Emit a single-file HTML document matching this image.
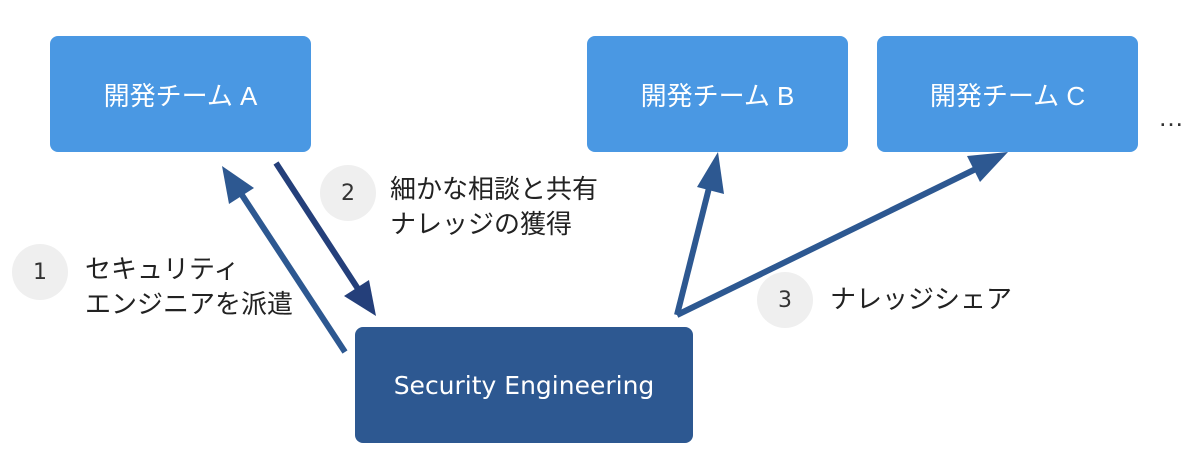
<!DOCTYPE html>
<html><head><meta charset="utf-8"><style>
body{margin:0;width:1200px;height:466px;background:#fff;position:relative;overflow:hidden;font-family:"Liberation Sans","Noto Sans CJK JP",sans-serif;}
.b{position:absolute;border-radius:8px;color:#fff;font-size:26px;display:flex;align-items:center;justify-content:center;}
.l{background:#4a98e3;top:36px;width:261px;height:116px;}
.c{position:absolute;width:56px;height:56px;border-radius:50%;background:#efefef;color:#333;font-size:22px;display:flex;align-items:center;justify-content:center;font-family:"DejaVu Sans",sans-serif;}
.t{position:absolute;font-size:26px;color:#222;line-height:35px;}
</style></head><body>
<div class="b l" style="left:50px">開発チーム A</div>
<div class="b l" style="left:587px">開発チーム B</div>
<div class="b l" style="left:877px">開発チーム C</div>
<div class="b" style="left:355px;top:327px;width:338px;height:116px;background:#2d5891;font-size:25px;font-family:'DejaVu Sans',sans-serif">Security Engineering</div>
<div class="t" style="left:1158px;top:100px;color:#333">…</div>
<svg width="1200" height="466" style="position:absolute;left:0;top:0">
<g stroke-width="6" fill="none">
<line x1="345" y1="352" x2="238" y2="189" stroke="#2d5891"/>
<line x1="276" y1="163" x2="362" y2="295" stroke="#243f7a"/>
<line x1="677" y1="315" x2="712" y2="176" stroke="#2d5891"/>
<line x1="677" y1="315" x2="986" y2="164" stroke="#2d5891"/>
</g>
<polygon points="222,166 254,188 229,204" fill="#2d5891"/>
<polygon points="376,316 344,296 369,280" fill="#243f7a"/>
<polygon points="718,152 724,194 697,187" fill="#2d5891"/>
<polygon points="1008,152 980,182 967,156" fill="#2d5891"/>
</svg>
<div class="c" style="left:12px;top:244px">1</div>
<div class="c" style="left:320px;top:165px">2</div>
<div class="c" style="left:757px;top:272px">3</div>
<div class="t" style="left:85px;top:252px">セキュリティ<br>エンジニアを派遣</div>
<div class="t" style="left:390px;top:172px">細かな相談と共有<br>ナレッジの獲得</div>
<div class="t" style="left:830px;top:282px">ナレッジシェア</div>
</body></html>
